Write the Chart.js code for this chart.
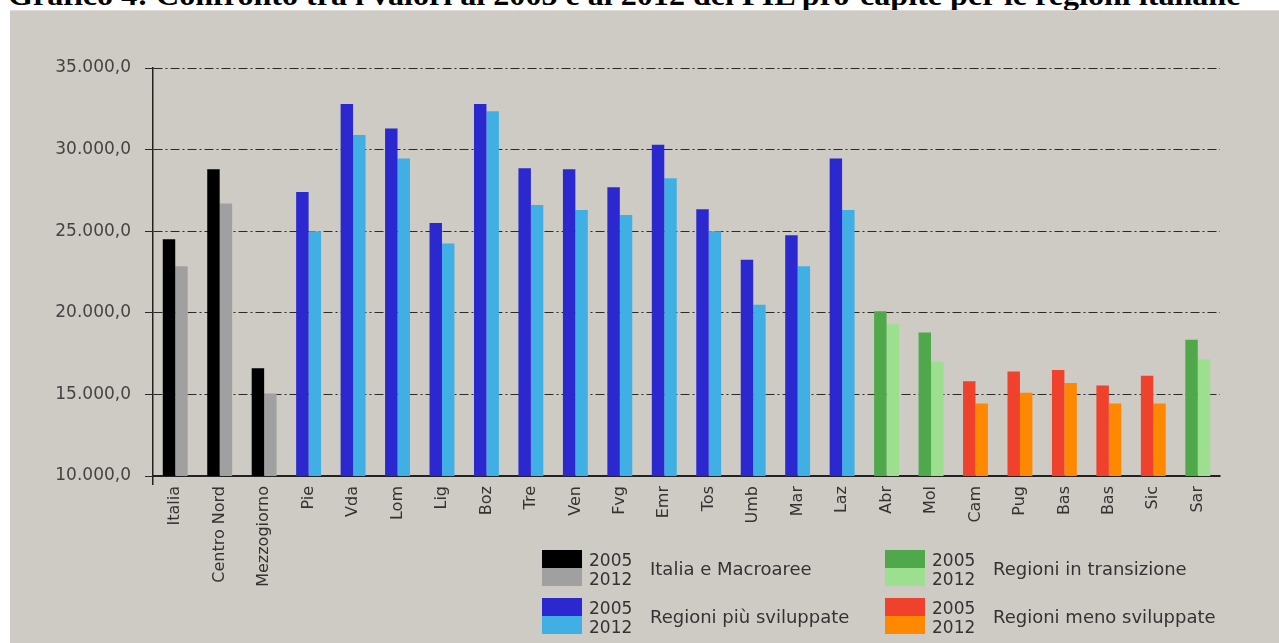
<!DOCTYPE html>
<html>
<head>
<meta charset="utf-8">
<title>Grafico 4</title>
<script src="https://cdn.jsdelivr.net/npm/chart.js@4.4.1/dist/chart.umd.min.js"></script>
<style>
    html, body { margin: 0; padding: 0; background: #fff; overflow: hidden; }
    body { width: 1279px; height: 643px; position: relative; }
    #title {
        position: absolute; left: 8px; top: -20px; white-space: nowrap;
        font: bold 30px/30px "Liberation Serif", "Times New Roman", serif; color: #000;
        transform-origin: 0 0; transform: scaleX(1.07);
    }
    #panel {
        position: absolute; left: 10px; top: 10px; right: 0; bottom: 0;
        background: #cecbc5; border-top: 1px solid #dedbd6;
    }
    #chart { position: absolute; left: 0; top: 0; }
    .lg { position: absolute; font-family: "DejaVu Sans", sans-serif; color: #333; white-space: nowrap; }
    .sw { position: absolute; width: 40px; height: 18px; }
    .yr { font-size: 17px; line-height: 19px; }
    .lab { font-size: 18px; line-height: 20px; }
</style>
</head>
<body>
<div id="title">Grafico 4: Confronto tra i valori al 2005 e al 2012 del PIL pro-capite per le regioni italiane</div>
<div id="panel"></div>
<canvas id="chart" width="1279" height="643"></canvas>
<div id="legend"></div>

<script>
// ======================= Data =======================
const categories = ["Italia", "Centro Nord", "Mezzogiorno", "Pie", "Vda", "Lom", "Lig", "Boz", "Tre", "Ven",
    "Fvg", "Emr", "Tos", "Umb", "Mar", "Laz", "Abr", "Mol", "Cam", "Pug", "Bas", "Bas", "Sic", "Sar"];

const values2005 = [24500, 28800, 16600, 27400, 32800, 31300, 25500, 32800, 28850, 28800,
    27700, 30300, 26350, 23250, 24750, 29450, 20100, 18800, 15800, 16400, 16500, 15550, 16150, 18350];

const values2012 = [22850, 26700, 15050, 25000, 30900, 29450, 24250, 32350, 26600, 26300,
    26000, 28250, 25000, 20500, 22850, 26300, 19300, 17000, 14450, 15100, 15700, 14450, 14450, 17150];

// group of each category (decides the colour pair)
const groups = ["macro", "macro", "macro",
    "piu", "piu", "piu", "piu", "piu", "piu", "piu", "piu", "piu", "piu", "piu", "piu", "piu",
    "trans", "trans", "meno", "meno", "meno", "meno", "meno", "trans"];

const yTicks = [10000, 15000, 20000, 25000, 30000, 35000];
const years = ["2005", "2012"];

const legendKeys = ["macro", "trans", "piu", "meno"];
const legendLabels = ["Italia e Macroaree", "Regioni in transizione", "Regioni più sviluppate", "Regioni meno sviluppate"];

const colors2005 = { macro: "#000000", piu: "#2b28d0", trans: "#4fa84a", meno: "#ef412b" };
const colors2012 = { macro: "#a0a0a0", piu: "#40b0e4", trans: "#9bdf8f", meno: "#fe8900" };

// ======================= Helpers =======================
function formatTick(v) {
    const s = Math.round(v).toString().replace(/\B(?=(\d{3})+(?!\d))/g, ".");
    return s + ",0";
}

// ======================= Chart =======================
new Chart(document.getElementById("chart"), {
    type: "bar",
    data: {
        labels: categories,
        datasets: [{
            label: years[0],
            data: values2005,
            backgroundColor: groups.map(g => colors2005[g])
        }, {
            label: years[1],
            data: values2012,
            backgroundColor: groups.map(g => colors2012[g])
        }]
    },
    options: {
        responsive: false,
        animation: false,
        categoryPercentage: 0.56,
        barPercentage: 1.0,
        layout: { padding: { top: 68, right: 59, left: 0, bottom: 0 } },
        plugins: {
            legend: { display: false },
            tooltip: { enabled: false }
        },
        scales: {
            x: {
                afterFit: s => { s.height = 167; },
                grid: {
                    offset: true,
                    drawOnChartArea: false,
                    tickLength: 9,
                    lineWidth: 1.5,
                    color: ctx => ctx.index === 0 ? "#222" : "rgba(0,0,0,0)"
                },
                border: { color: "#222", width: 2 },
                ticks: {
                    autoSkip: false,
                    minRotation: 90,
                    maxRotation: 90,
                    padding: 1,
                    color: "#333",
                    font: { family: "DejaVu Sans", size: 16 }
                }
            },
            y: {
                min: 10000,
                max: 35000,
                afterFit: s => { s.width = 153; },
                afterBuildTicks: s => { s.ticks = yTicks.map(v => ({ value: v })); },
                grid: { color: "#2a2a2a", lineWidth: 1, tickLength: 8 },
                border: { color: "#222", width: 1.5, dash: [9, 3, 2, 3] },
                ticks: {
                    padding: 14,
                    color: "#444",
                    font: { family: "DejaVu Sans", size: 17 },
                    callback: v => formatTick(v)
                }
            }
        }
    }
});

// ======================= Legend =======================
function buildLegend() {
    const box = document.getElementById("legend");
    const colX = [542, 885];
    const rowY = [550, 598];
    legendKeys.forEach((key, i) => {
        const x = colX[i % 2];
        const y = rowY[Math.floor(i / 2)];
        box.innerHTML += `
            <div class="sw" style="left:${x}px;top:${y}px;background:${colors2005[key]}"></div>
            <div class="sw" style="left:${x}px;top:${y + 18}px;background:${colors2012[key]}"></div>
            <div class="lg yr" style="left:${x + 47}px;top:${y + 1}px">${years[0]}</div>
            <div class="lg yr" style="left:${x + 47}px;top:${y + 20}px">${years[1]}</div>
            <div class="lg lab" style="left:${x + 108}px;top:${y + 9}px">${legendLabels[i]}</div>
        `;
    });
}
buildLegend();
</script>
</body>
</html>
